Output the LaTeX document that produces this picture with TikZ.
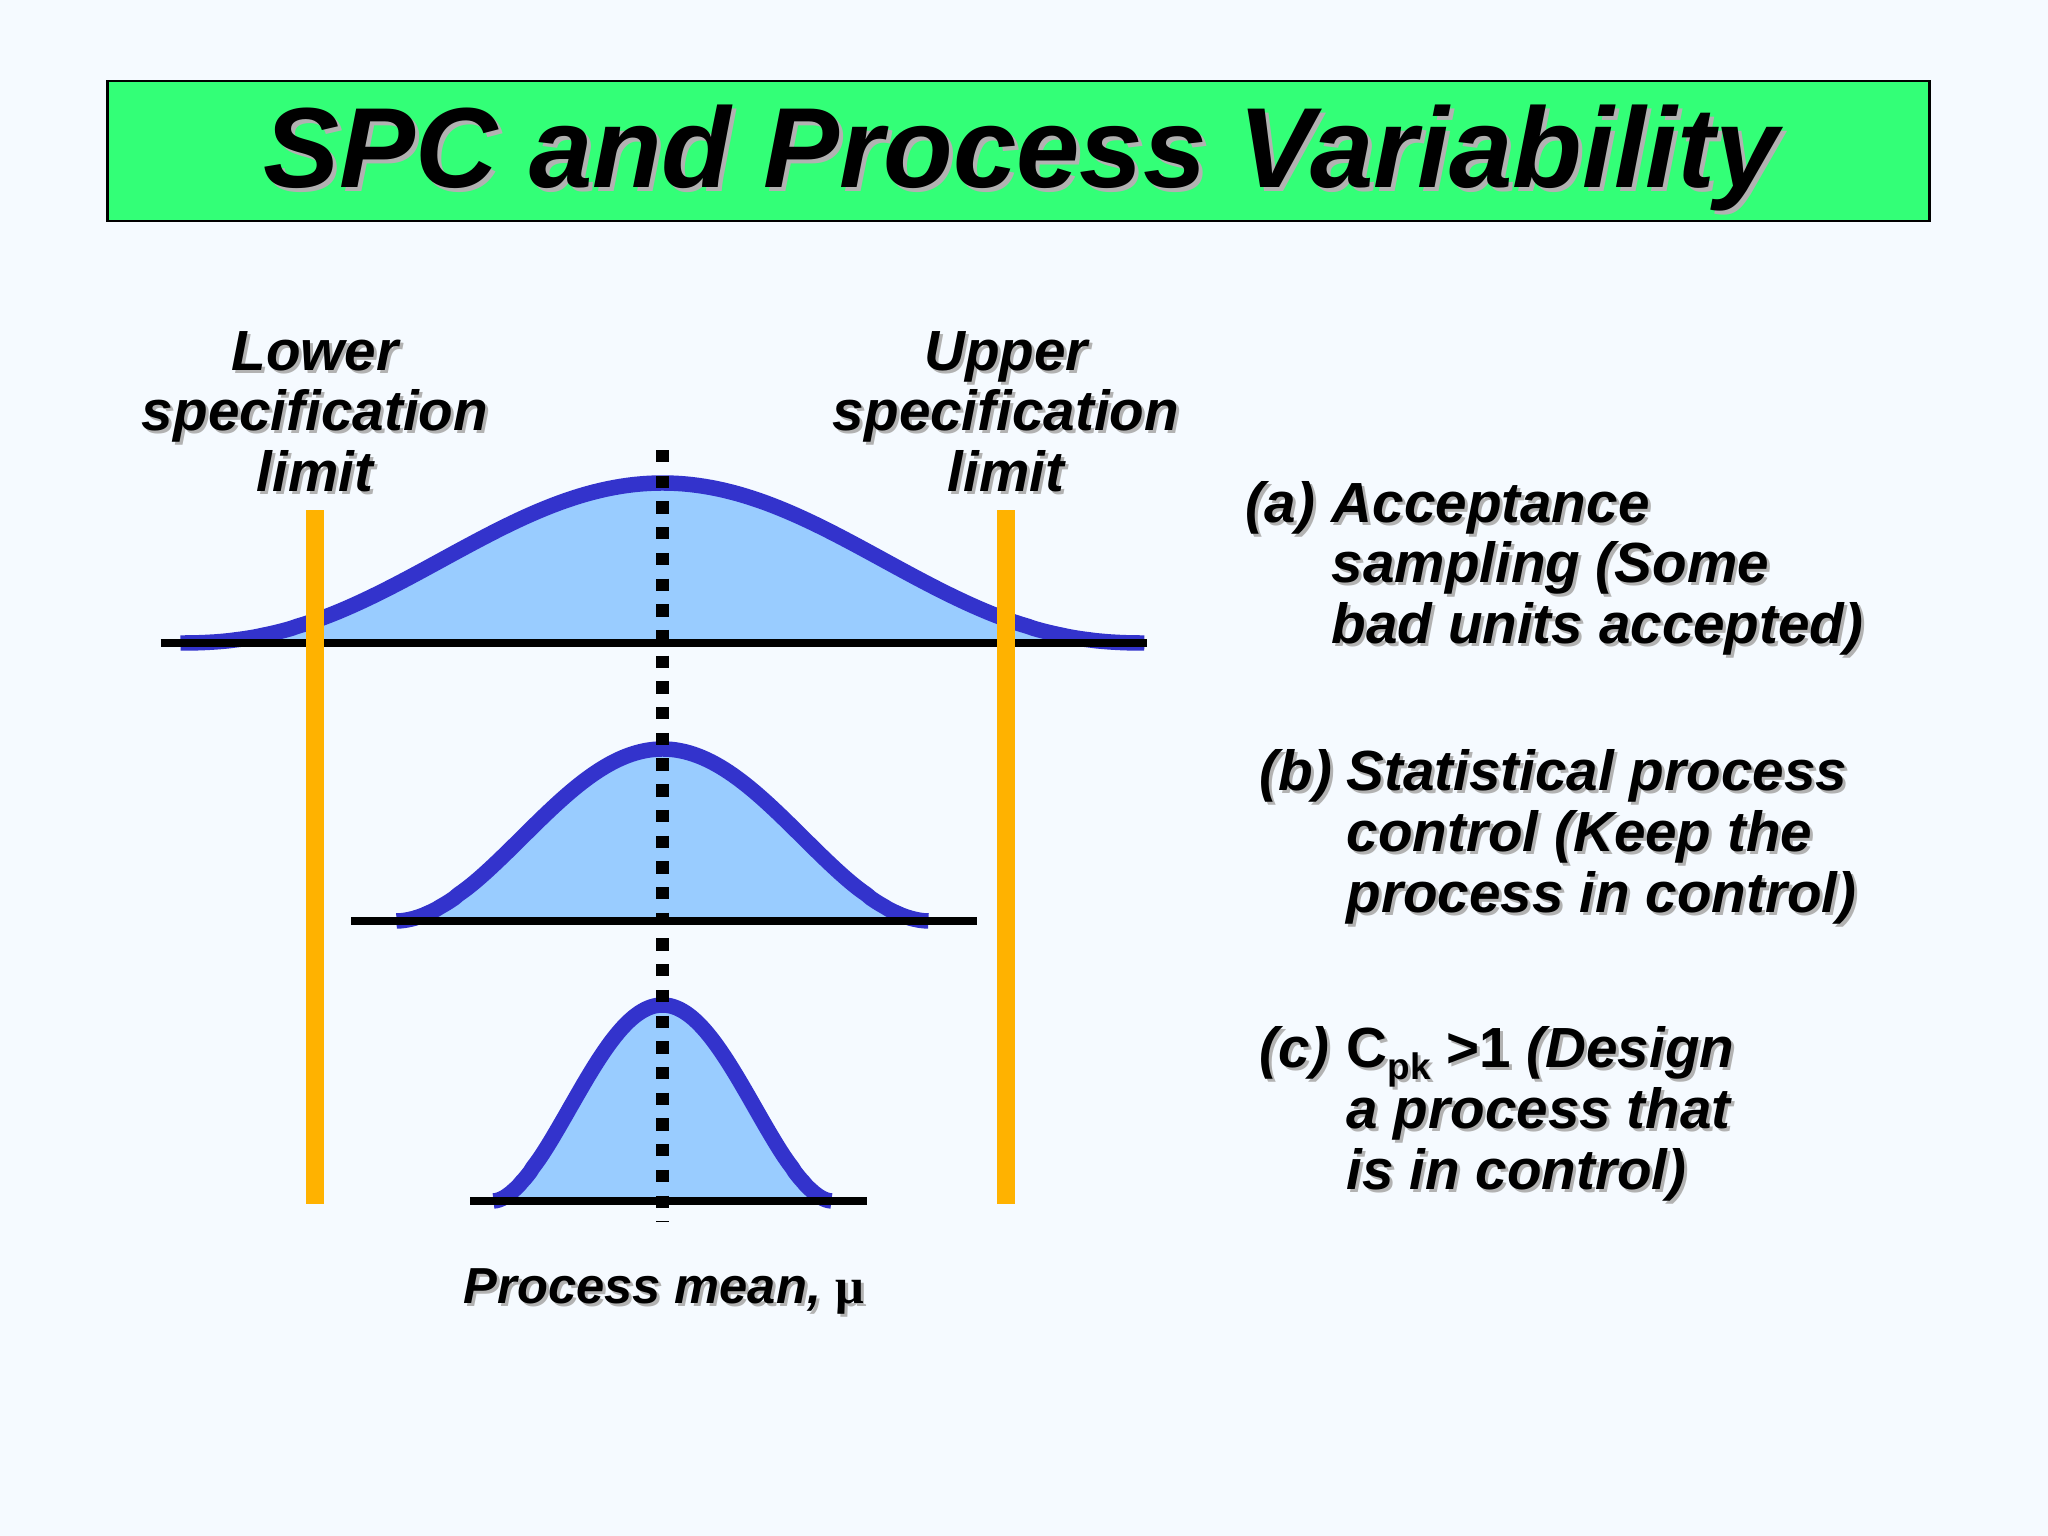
\documentclass[tikz,border=0pt]{standalone}
\usepackage{fontspec}
\setmainfont{Liberation Sans}
\newfontfamily\symfont{Liberation Serif}
\definecolor{bgc}{RGB}{245,250,255}
\definecolor{titlegreen}{RGB}{51,255,119}
\definecolor{curveblue}{RGB}{51,51,204}
\definecolor{fillblue}{RGB}{153,204,255}
\definecolor{specorange}{RGB}{255,178,0}
\definecolor{shadowgray}{RGB}{178,178,178}
\tikzset{
  bodytext/.style={inner sep=0pt, font=\fontsize{16.1}{17.2}\selectfont\bfseries\itshape},
  meantext/.style={inner sep=0pt, font=\fontsize{14.4}{16}\selectfont\bfseries\itshape},
  titletext/.style={inner sep=0pt, font=\fontsize{32.4}{36}\selectfont\bfseries\itshape},
  bellfill/.style={fill=fillblue},
  bellline/.style={draw=curveblue, line width=4.4pt, line cap=butt, line join=round},
  axisline/.style={draw=black, line width=2.3pt},
  specbar/.style={draw=specorange, line width=4.85pt},
  meanline/.style={draw=black, line width=3.7pt, dash pattern=on 3.5pt off 3.81pt},
}
% text with a grey drop shadow offset right and down by #1
\newcommand\shd[2]{\leavevmode\rlap{\hspace{#1}\raisebox{-#1}{\textcolor{shadowgray}{#2}}}#2}
\newcommand\bsh[1]{\shd{0.03cm}{#1}}
\begin{document}
\begin{tikzpicture}[x=0.01cm,y=-0.01cm]
\fill[bgc] (0,0) rectangle (2048,1536);
\useasboundingbox (0,0) rectangle (2048,1536);
% title
\node[fill=titlegreen, draw=black, line width=0.6pt, minimum width=18.21cm, minimum height=1.40cm, inner sep=0pt] (titlebox) at (1018.5,151) {};
\node[titletext, anchor=base] (title) at (1021,187) {\shd{0.04cm}{SPC and Process Variability}};
% curve fills
\fill[bellfill] plot[domain=-1:1,samples=141] ({662.5+482*\x},{643-160*(((1+cos(180*\x))/2+0.0001)^1.15)}) -- cycle;
\fill[bellfill] plot[domain=-1:1,samples=121] ({662.5+266*\x},{921-172*(((1+cos(180*\x))/2+0.0001)^0.92)}) -- cycle;
\fill[bellfill] plot[domain=-1:1,samples=121] ({662.5+169*\x},{1201-196*(((1+cos(180*\x))/2+0.0001)^0.87)}) -- cycle;
% curve lines
\draw[bellline] plot[domain=-1:1,samples=141] ({662.5+482*\x},{643-160*(((1+cos(180*\x))/2+0.0001)^1.15)});
\draw[bellline] plot[domain=-1:1,samples=121] ({662.5+266*\x},{921-172*(((1+cos(180*\x))/2+0.0001)^0.92)});
\draw[bellline] plot[domain=-1:1,samples=121] ({662.5+169*\x},{1201-196*(((1+cos(180*\x))/2+0.0001)^0.87)});
% axes
\coordinate (aL) at (160.6,643); \coordinate (aR) at (1147,643);
\coordinate (bL) at (351,921);   \coordinate (bR) at (977,921);
\coordinate (cL) at (470,1201);  \coordinate (cR) at (867,1201);
\draw[axisline] (aL) -- (aR);
\draw[axisline] (bL) -- (bR);
\draw[axisline] (cL) -- (cR);
% specification limits
\coordinate (lslT) at (315,510);  \coordinate (lslB) at (315,1204);
\coordinate (uslT) at (1006,510); \coordinate (uslB) at (1006,1204);
\draw[specbar] (lslT) -- (lslB);
\draw[specbar] (uslT) -- (uslB);
% mean line
\coordinate (meanT) at (662.5,450); \coordinate (meanB) at (662.5,1222);
\draw[meanline] (meanT) -- (meanB);
% left labels
\node[bodytext, anchor=base] (lsl1) at (315,370)   {\bsh{Lower}};
\node[bodytext, anchor=base] (lsl2) at (315,430.5) {\bsh{specification}};
\node[bodytext, anchor=base] (lsl3) at (315,491)   {\bsh{limit}};
\node[bodytext, anchor=base] (usl1) at (1006,370)   {\bsh{Upper}};
\node[bodytext, anchor=base] (usl2) at (1006,430.5) {\bsh{specification}};
\node[bodytext, anchor=base] (usl3) at (1006,491)   {\bsh{limit}};
% right texts
\node[bodytext, anchor=base west] (ta)  at (1245,522) {\bsh{(a)}};
\node[bodytext, anchor=base west] (ta1) at (1331,522) {\bsh{Acceptance}};
\node[bodytext, anchor=base west] (ta2) at (1331,582) {\bsh{sampling (Some}};
\node[bodytext, anchor=base west] (ta3) at (1331,643) {\bsh{bad units accepted)}};
\node[bodytext, anchor=base west] (tb)  at (1259,790) {\bsh{(b)}};
\node[bodytext, anchor=base west] (tb1) at (1346,790) {\bsh{Statistical process}};
\node[bodytext, anchor=base west] (tb2) at (1346,851) {\bsh{control (Keep the}};
\node[bodytext, anchor=base west] (tb3) at (1346,912) {\bsh{process in control)}};
\node[bodytext, anchor=base west] (tc)  at (1259,1067) {\bsh{(c)}};
\node[bodytext, anchor=base west] (tc1) at (1346,1067) {\bsh{{\upshape C\raisebox{-0.22em}{\fontsize{10.5}{10}\selectfont pk} >1} (Design}};
\node[bodytext, anchor=base west] (tc2) at (1346,1128) {\bsh{a process that}};
\node[bodytext, anchor=base west] (tc3) at (1346,1189) {\bsh{is in control)}};
% mean label
\node[meantext, anchor=base west] (meanlabel) at (463,1303) {\bsh{Process mean, {\symfont\upshape\bfseries μ}}};
\end{tikzpicture}
\end{document}
